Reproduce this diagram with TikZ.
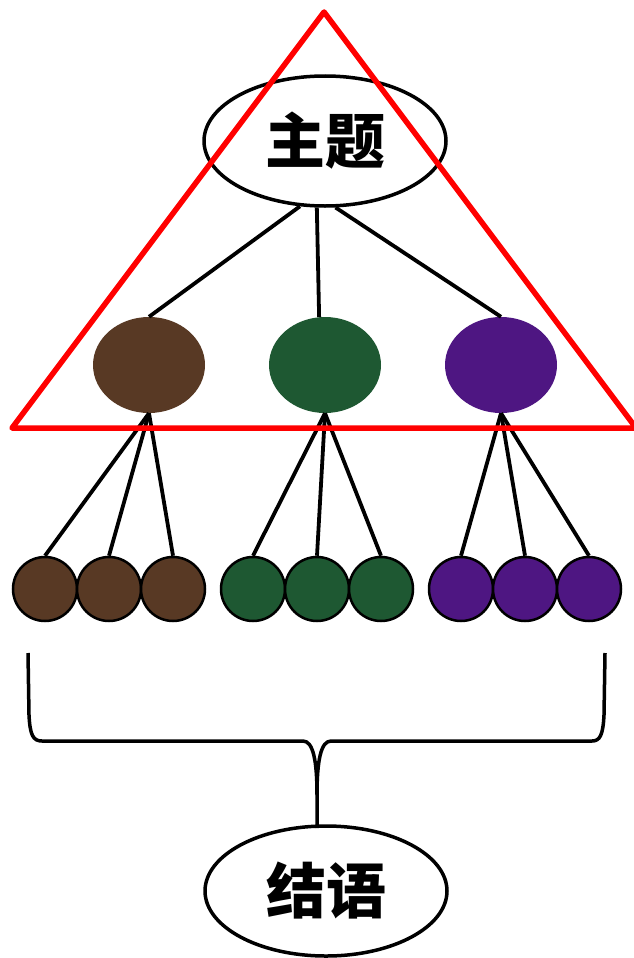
\documentclass[tikz,border=0pt]{standalone}
\usepackage{fontspec}
\newfontfamily\cjk{Noto Sans CJK SC}
\usetikzlibrary{shapes.geometric}

\definecolor{barkbrown}{RGB}{88,57,36}
\definecolor{mossgreen}{RGB}{30,88,50}
\definecolor{plumpurple}{RGB}{78,22,130}

\begin{document}
\begin{tikzpicture}[
    x=1pt, y=-1pt,
    every node/.style={font=\cjk\bfseries\fontsize{60}{62}\selectfont},
    bubble/.style={ellipse, draw, line width=3.5pt, fill=white, minimum width=242pt, minimum height=130pt, inner sep=0pt},
    bigdot/.style={ellipse, minimum width=112pt, minimum height=96pt, inner sep=0pt},
    smalldot/.style={circle, draw, line width=2.5pt, minimum size=64pt, inner sep=0pt},
    link/.style={line width=3.8pt},
    frame/.style={red, line width=5.5pt, line join=round}
]
\useasboundingbox (0,0) rectangle (633,958);

% ============ TOPIC (TOP) ============
\node[bubble] (topic) at (325, 141) {};

% Middle row
\node[bigdot, fill=barkbrown] (bm) at (149, 365) {};
\node[bigdot, fill=mossgreen] (gm) at (325, 365) {};
\node[bigdot, fill=plumpurple] (pm) at (501, 365) {};

\draw[link] (topic.249) -- (bm.north);
\draw[link] (topic.263) -- (gm.97);
\draw[link] (topic.279) -- (pm.north);

% ============ DETAILS (BOTTOM ROW) ============
\node[smalldot, fill=barkbrown] (b1) at (45, 589) {};
\node[smalldot, fill=barkbrown] (b2) at (109, 589) {};
\node[smalldot, fill=barkbrown] (b3) at (173, 589) {};
\node[smalldot, fill=mossgreen] (g1) at (253, 589) {};
\node[smalldot, fill=mossgreen] (g2) at (317, 589) {};
\node[smalldot, fill=mossgreen] (g3) at (381, 589) {};
\node[smalldot, fill=plumpurple] (p1) at (461, 589) {};
\node[smalldot, fill=plumpurple] (p2) at (525, 589) {};
\node[smalldot, fill=plumpurple] (p3) at (589, 589) {};

\draw[link] (bm.south) -- (b1.north);
\draw[link] (bm.south) -- (b2.north);
\draw[link] (bm.south) -- (b3.north);
\draw[link] (gm.south) -- (g1.north);
\draw[link] (gm.south) -- (g2.north);
\draw[link] (gm.south) -- (g3.north);
\draw[link] (pm.south) -- (p1.north);
\draw[link] (pm.south) -- (p2.north);
\draw[link] (pm.south) -- (p3.north);

% Red frame round topic and middle row
\draw[frame] (324, 12) -- (12, 428) -- (636, 428) -- cycle;

% Topic text on top of the frame
\node (topictext) at (topic.center) {主题};

% ============ CONCLUSION ============
\node[bubble] (concl) at (326, 891) {结语};
\coordinate (tip) at (317, 828);

% Brace
\draw[line width=3.5pt, line join=round]
    (28, 653) -- (29, 715) .. controls (30, 735) and (33, 741) .. (42, 741)
    -- (303, 741) .. controls (313, 741) and (317, 760) .. (317, 795)
    -- (tip);
\draw[line width=3.5pt, line join=round]
    (605, 653) -- (604, 715) .. controls (603, 735) and (600, 741) .. (592, 741)
    -- (331, 741) .. controls (321, 741) and (317, 760) .. (317, 795);

\end{tikzpicture}
\end{document}
